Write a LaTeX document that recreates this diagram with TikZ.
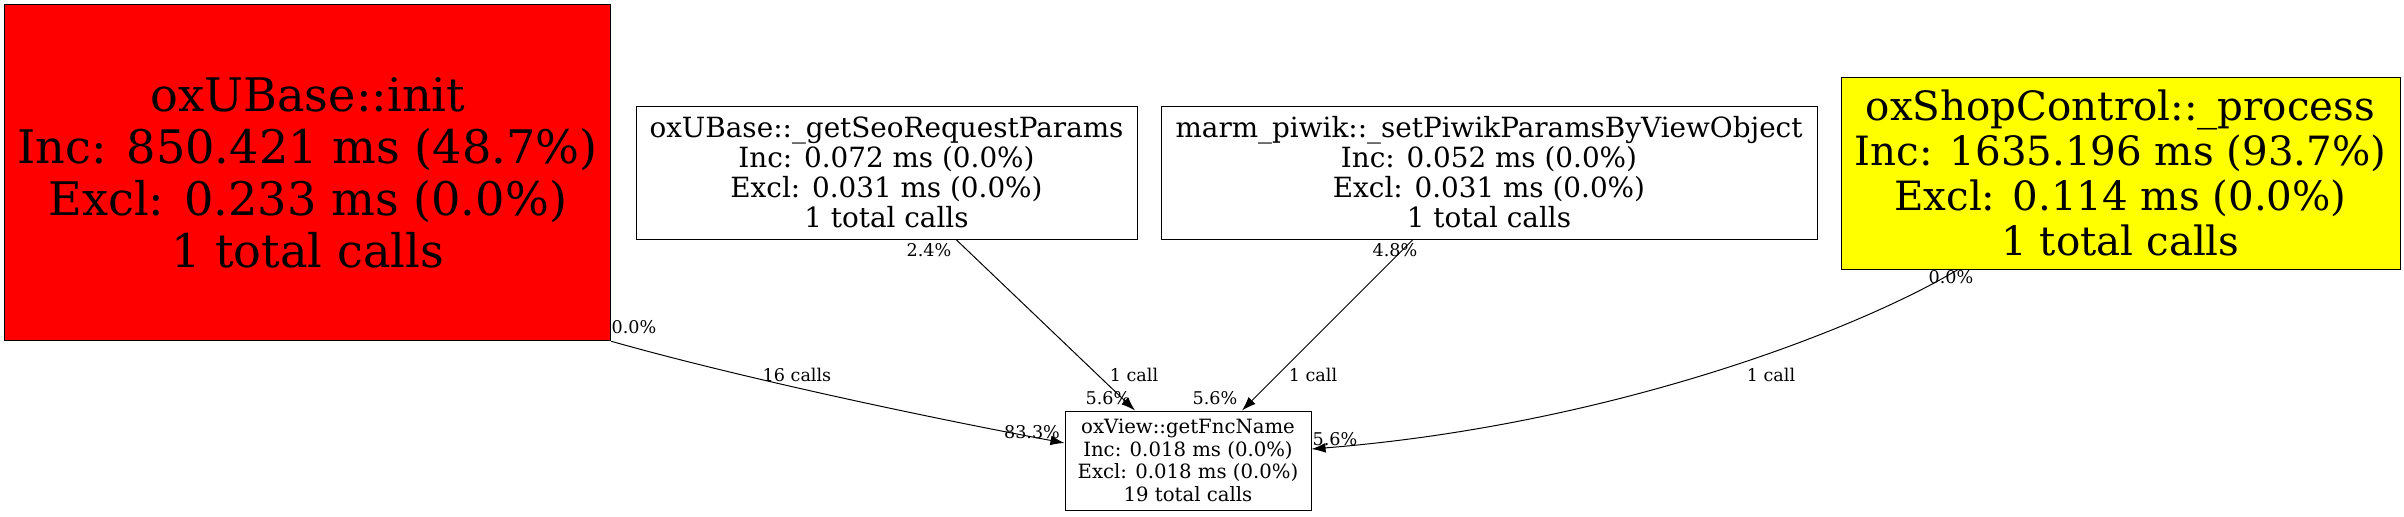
\documentclass[tikz,border=0pt]{standalone}
\usepackage{fontspec}
\setmainfont{DejaVu Serif}
\usepackage{tikz}
\usetikzlibrary{arrows.meta,positioning,calc}
\definecolor{rouge}{RGB}{255,0,0}
\definecolor{jaune}{RGB}{255,255,0}

\begin{document}
\begin{tikzpicture}[x=0.25mm,y=-0.25mm]
\tikzstyle{fleche}=[-{Latex[length=10pt,width=7pt]},line width=0.7pt]
\tikzstyle{fonction}=[draw,rectangle,align=center,inner sep=0pt,line width=0.7pt]
\tikzstyle{etiquette}=[inner sep=0pt,font=\fontsize{12.5}{14}\selectfont]
\useasboundingbox (0,0) rectangle (2404,517);
\node[fonction,fill=rouge,minimum width=151.5mm,minimum height=84mm,font=\fontsize{32.9}{37}\selectfont] (Init) at (307.8,172.8) {oxUBase::init\\Inc: 850.421 ms (48.7\%)\\Excl: 0.233 ms (0.0\%)\\1 total calls};
\node[fonction,minimum width=125.25mm,minimum height=33.25mm,font=\fontsize{19.8}{21.3}\selectfont] (Seo) at (886.5,172.5) {oxUBase::\_getSeoRequestParams\\Inc: 0.072 ms (0.0\%)\\Excl: 0.031 ms (0.0\%)\\1 total calls};
\node[fonction,minimum width=164mm,minimum height=33.25mm,font=\fontsize{19.8}{21.3}\selectfont] (Piwik) at (1489,172.5) {marm\_piwik::\_setPiwikParamsByViewObject\\Inc: 0.052 ms (0.0\%)\\Excl: 0.031 ms (0.0\%)\\1 total calls};
\node[fonction,fill=jaune,minimum width=139.75mm,minimum height=48mm,font=\fontsize{28.7}{32}\selectfont] (Process) at (2120.5,173) {oxShopControl::\_process\\Inc: 1635.196 ms (93.7\%)\\Excl: 0.114 ms (0.0\%)\\1 total calls};
\node[fonction,minimum width=61.5mm,minimum height=24.75mm,font=\fontsize{14}{16}\selectfont] (Fnc) at (1188,460.5) {oxView::getFncName\\Inc: 0.018 ms (0.0\%)\\Excl: 0.018 ms (0.0\%)\\19 total calls};
% appels
\draw[fleche] (Init.south east) .. controls +(120,34) and +(-150,-28) .. ($(Fnc.west)+(0,-17.5)$);
\draw[fleche] ($(Seo.south)+(69.5,0)$) -- ($(Fnc.north)+(-53,0)$);
\draw[fleche] ($(Piwik.south)+(-76,0)$) -- ($(Fnc.north)+(54,0)$);
\draw[fleche] ($(Process.south)+(-162.5,0)$) .. controls +(-100,60) and +(300,-24) .. ($(Fnc.east)+(0,-11.5)$);
% etiquettes
\node[etiquette] (Ta) at (634,327) {0.0\%};
\node[etiquette] (La) at (797,375) {16 calls};
\node[etiquette] (Ha) at (1032,432) {83.3\%};
\node[etiquette] (Tb) at (929,250) {2.4\%};
\node[etiquette] (Lb) at (1134,375) {1 call};
\node[etiquette] (Hb) at (1108,398) {5.6\%};
\node[etiquette] (Tc) at (1395,250) {4.8\%};
\node[etiquette] (Lc) at (1313,375) {1 call};
\node[etiquette] (Hc) at (1215,398) {5.6\%};
\node[etiquette] (Td) at (1951,277) {0.0\%};
\node[etiquette] (Ld) at (1771,375) {1 call};
\node[etiquette] (Hd) at (1335,439) {5.6\%};
\end{tikzpicture}
\end{document}
